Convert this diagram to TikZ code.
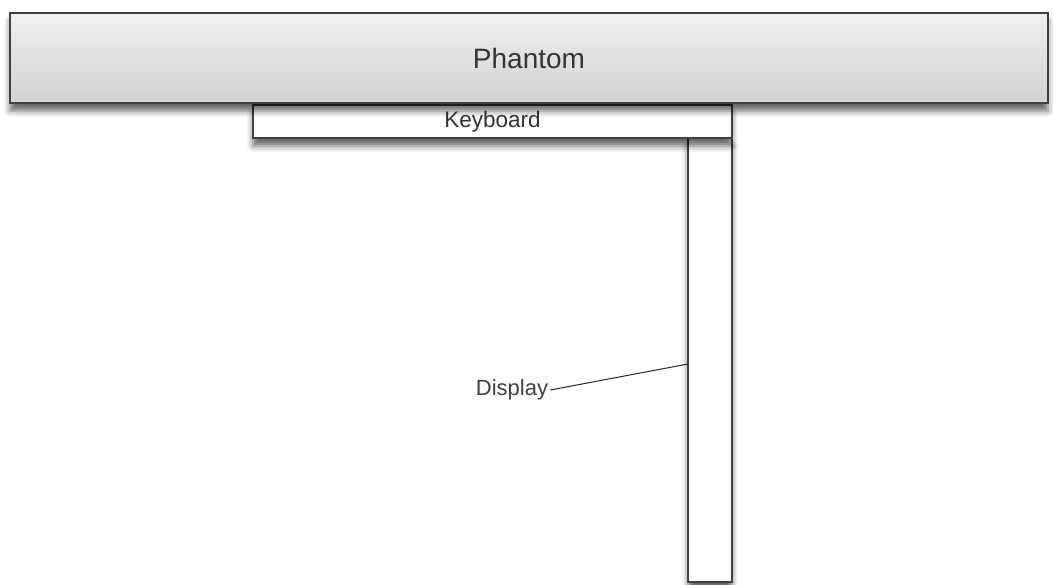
\documentclass[tikz,border=0pt]{standalone}
\usepackage{fontspec}
\setmainfont{Liberation Sans}
\usetikzlibrary{shadows.blur}

\begin{document}
\begin{tikzpicture}[x=1pt,y=-1pt,
    part/.style={draw=black!75, line width=1.3pt, inner sep=0pt, text=black!80,
      blur shadow={shadow xshift=0pt, shadow yshift=-8pt, shadow blur radius=6pt, shadow opacity=60}},
    tag/.style={inner sep=2pt, text=black!75, font=\fontsize{22}{24}\selectfont}]
		\useasboundingbox (0,0) rectangle (1053,585);

		% Display and keyboard
		\node[part, fill=white, minimum width=44pt, minimum height=444pt] (display) at (710,360) {};
		\node[part, fill=white, minimum width=479pt, minimum height=33pt,
			font=\fontsize{22.5}{24}\selectfont] (keyboard) at (492.5,121.5) {Keyboard};

		% Phantom bar
		\node[part, top color=black!6, bottom color=black!18, minimum width=1038pt, minimum height=90pt,
			font=\fontsize{28}{30}\selectfont] (phantom) at (529,58) {Phantom};

		% Label
		\node[tag] (displaylabel) at (512,390) {Display};
		\coordinate (displaytip) at (688,364);
		\draw[black!85, line width=1pt] (displaylabel.east) -- (displaytip);
	\end{tikzpicture}
\end{document}
